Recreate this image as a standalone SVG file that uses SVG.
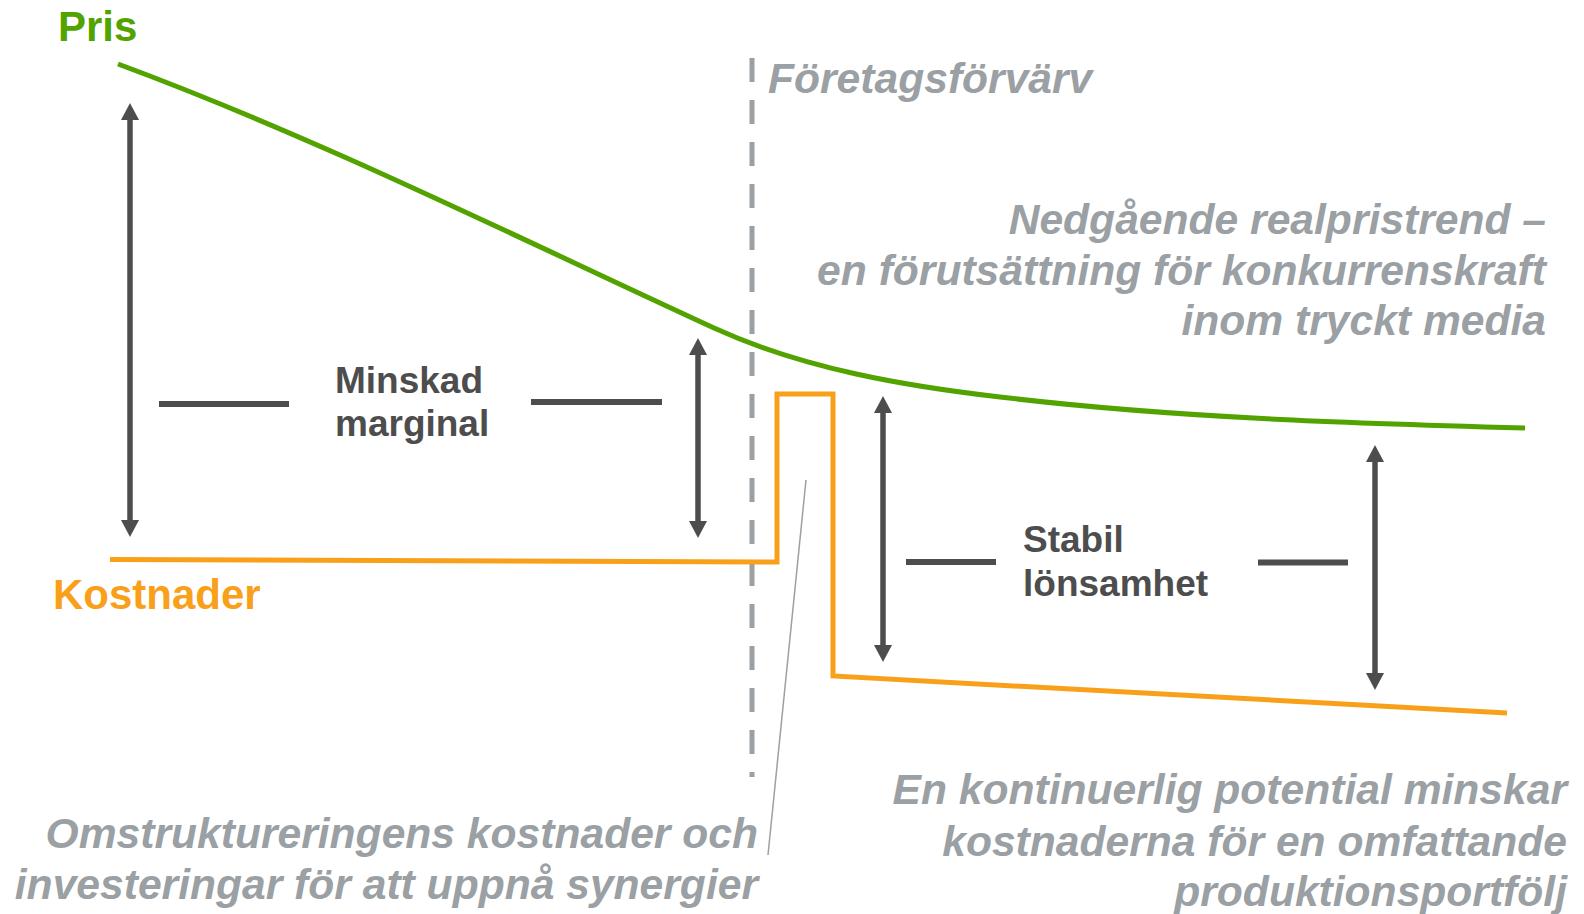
<svg xmlns="http://www.w3.org/2000/svg" width="1584" height="914" viewBox="0 0 1584 914">
<style>
.lbl{font-family:"Liberation Sans",Arial,sans-serif;font-weight:bold;}
.note{font-family:"Liberation Sans",Arial,sans-serif;font-weight:bold;font-style:italic;font-size:42.6px;fill:#9aa0a3;}
.dark{font-size:37px;fill:#4d4d4d;}
.arr{stroke:#4d4d4d;stroke-width:5.5;fill:none;marker-start:url(#ah);marker-end:url(#ah);}
.tick{stroke:#4d4d4d;stroke-width:6;fill:none;}
</style>
<defs>
<marker id="ah" markerUnits="userSpaceOnUse" markerWidth="18" markerHeight="18" viewBox="0 0 17 18" refX="2" refY="9" orient="auto-start-reverse">
<path d="M0,0 L17,9 L0,18 z" fill="#4d4d4d"/>
</marker>
</defs>
<rect width="1584" height="914" fill="#ffffff"/>
<g id="acquisition-line">
<line x1="752" y1="58" x2="752" y2="777" stroke="#9aa0a3" stroke-width="5" stroke-dasharray="24 18"/>
<text class="note" x="768" y="93" font-size="42">Företagsförvärv</text>
</g>
<g id="price">
<path d="M118,64 C318,138 514,236 714,328 C804,369 905,386 1000,397 C1175,418 1350,423 1525,428" fill="none" stroke="#52a300" stroke-width="5"/>
<text class="lbl" x="58" y="41" font-size="42" fill="#52a300">Pris</text>
</g>
<g id="costs">
<path d="M110,559.5 L777,562 L777,394 L833,394 L833,676 L1507,713" fill="none" stroke="#f9a01b" stroke-width="5"/>
<text class="lbl" x="53" y="609" font-size="42" fill="#f9a01b">Kostnader</text>
</g>
<g id="connectors">
<line class="arr" x1="130" y1="118" x2="130" y2="522"/>
<line class="arr" x1="698" y1="353" x2="698" y2="523"/>
<line class="arr" x1="883" y1="411" x2="883" y2="647"/>
<line class="arr" x1="1375" y1="460" x2="1375" y2="675"/>
<line x1="806" y1="480" x2="768" y2="855" stroke="#9aa0a3" stroke-width="1.5"/>
</g>
<g id="minskad-marginal">
<line class="tick" x1="159" y1="404" x2="289" y2="404"/>
<line class="tick" x1="531" y1="402" x2="662" y2="402"/>
<text class="lbl dark"><tspan x="335" y="393">Minskad</tspan><tspan x="335" y="436">marginal</tspan></text>
</g>
<g id="stabil-lonsamhet">
<line class="tick" x1="906" y1="562" x2="996" y2="562"/>
<line class="tick" x1="1258" y1="562.5" x2="1348" y2="562.5"/>
<text class="lbl dark"><tspan x="1023" y="552">Stabil</tspan><tspan x="1023" y="596">lönsamhet</tspan></text>
</g>
<g id="note-price">
<text class="note" text-anchor="end"><tspan x="1546" y="234">Nedgående realpristrend –</tspan><tspan x="1546" y="285">en förutsättning för konkurrenskraft</tspan><tspan x="1546" y="335">inom tryckt media</tspan></text>
</g>
<g id="note-restructuring">
<text class="note" text-anchor="end"><tspan x="758" y="848">Omstruktureringens kostnader och</tspan><tspan x="758" y="899">investeringar för att uppnå synergier</tspan></text>
</g>
<g id="note-costs">
<text class="note" text-anchor="end"><tspan x="1567" y="804">En kontinuerlig potential minskar</tspan><tspan x="1567" y="856">kostnaderna för en omfattande</tspan><tspan x="1567" y="906">produktionsportfölj</tspan></text>
</g>
</svg>
